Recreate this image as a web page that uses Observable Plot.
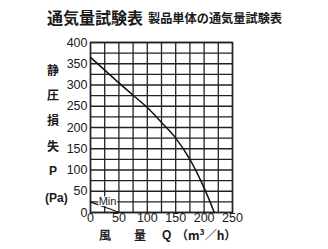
<!DOCTYPE html>
<html>
<head>
<meta charset="utf-8">
<script src="https://cdn.jsdelivr.net/npm/d3@7"></script>
<script src="https://cdn.jsdelivr.net/npm/@observablehq/plot@0.6"></script>
<style>
  html, body { margin: 0; padding: 0; background: #fff; }
  #wrap { position: relative; width: 328px; height: 249px; overflow: hidden; }
  .t { position: absolute; color: #1a1a1a; font-family: "Noto Sans CJK JP", sans-serif; font-weight: 700; white-space: nowrap; line-height: 1; }
</style>
</head>
<body>
<div id="wrap">
  <div class="t" style="left:47px; top:9px; font-size:16px;">通気量試験表</div>
  <div class="t" style="left:148px; top:12px; font-size:12.2px;">製品単体の通気量試験表</div>
  <div class="t" style="left:47px; top:64px; font-size:12px;">静</div>
  <div class="t" style="left:47px; top:89px; font-size:12px;">圧</div>
  <div class="t" style="left:47px; top:114px; font-size:12px;">損</div>
  <div class="t" style="left:47px; top:140px; font-size:12px;">失</div>
  <div class="t" style="left:49px; top:165px; font-size:12px; font-family:'Liberation Sans',sans-serif;">P</div>
  <div class="t" style="left:45px; top:192px; font-size:12px; font-family:'Liberation Sans',sans-serif;">(Pa)</div>
  <div class="t" style="left:99px; top:229px; font-size:12px;">風</div>
  <div class="t" style="left:134px; top:229px; font-size:12px;">量</div>
  <div class="t" style="left:162px; top:229px; font-size:12px; font-family:'Liberation Sans',sans-serif;">Q</div>
  <div class="t" style="left:176px; top:229px; font-size:12px;">（m³／h）</div>
  <div id="chart" style="position:absolute; left:0; top:0;"></div>
</div>
<script>
// Data
const flowMain = [0, 25, 50, 75, 100, 125, 150, 175, 200, 218];
const pressMain = [365, 335, 305, 276, 247, 212, 175, 125, 58, 0];
const flowMin = [0, 20, 35, 50];
const pressMin = [25, 15, 8, 0];
const xTicks = [0, 50, 100, 150, 200, 250];
const yTicks = [0, 50, 100, 150, 200, 250, 300, 350, 400];
const xGrid = d3.range(0, 251, 25);
const yGrid = d3.range(0, 401, 25);
const minLabel = [{x: 30, y: 27, text: "Min"}];

const main = flowMain.map((q, i) => ({q, p: pressMain[i]}));
const minC = flowMin.map((q, i) => ({q, p: pressMin[i]}));

const chart = Plot.plot({
  width: 328,
  height: 249,
  marginLeft: 90,
  marginRight: 96,
  marginTop: 42,
  marginBottom: 37,
  style: {background: "transparent", fontFamily: "'Liberation Sans', Arial, sans-serif", fontSize: "12px", color: "#1a1a1a"},
  x: {domain: [0, 250], ticks: xTicks, tickSize: 0, tickPadding: 1, label: null},
  y: {domain: [0, 400], ticks: yTicks, tickSize: 0, tickPadding: 3, label: null},
  marks: [
    Plot.gridX(xGrid, {stroke: "#222", strokeOpacity: 1, strokeWidth: 1.3}),
    Plot.gridY(yGrid, {stroke: "#222", strokeOpacity: 1, strokeWidth: 1.3}),
    Plot.frame({stroke: "#222", strokeWidth: 1.5}),
    Plot.line(main, {x: "q", y: "p", curve: "catmull-rom", stroke: "#111", strokeWidth: 1.5}),
    Plot.line(minC, {x: "q", y: "p", curve: "catmull-rom", stroke: "#111", strokeWidth: 1.1}),
    Plot.text(minLabel, {x: "x", y: "y", text: "text", fontSize: 11, fill: "#1a1a1a", stroke: "white", strokeWidth: 2.5, fontFamily: "'Liberation Sans', Arial, sans-serif"}),
    Plot.axisX({ticks: xTicks, tickSize: 0, tickPadding: 1, fontSize: 12.5}),
    Plot.axisY({ticks: yTicks, tickSize: 0, tickPadding: 3, fontSize: 12.5})
  ]
});
document.getElementById("chart").appendChild(chart);
</script>
</body>
</html>
